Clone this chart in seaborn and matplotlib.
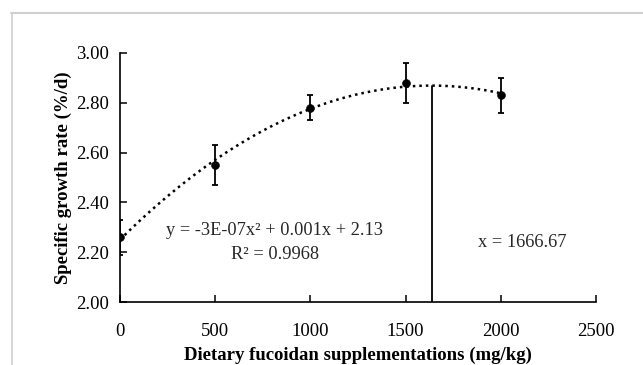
import numpy as np
import pandas as pd
import matplotlib.pyplot as plt
import matplotlib.lines as mlines
import seaborn as sns

# === DATA ===
doses = [0, 500, 1000, 1500, 2000]
sgr = [2.26, 2.55, 2.78, 2.88, 2.83]
sgr_err = [0.07, 0.08, 0.05, 0.08, 0.07]
optimum_x = 1640
x_ticks = [0, 500, 1000, 1500, 2000, 2500]
y_ticks = [2.00, 2.20, 2.40, 2.60, 2.80, 3.00]

# === STYLE ===
sns.set_theme(style="white")
plt.rcParams['font.family'] = ['Liberation Serif', 'DejaVu Serif']

fig = plt.figure(figsize=(6.43, 3.65), dpi=100)
ax = fig.add_axes([0.1866, 0.1726, 0.7403, 0.6822])

# quadratic trendline fitted to the means
coef = np.polyfit(doses, sgr, 2)
xs = np.linspace(0, 2000, 200)
fit = pd.DataFrame({"x": xs, "y": np.polyval(coef, xs)})
sns.lineplot(data=fit, x="x", y="y", ax=ax, color="black", linestyle=(0, (1, 1.6)),
             linewidth=1.8, zorder=2)

# means with error bars
ax.errorbar(doses, sgr, yerr=sgr_err, fmt="none", ecolor="black", elinewidth=1.3,
            capsize=2.4, capthick=1.3, zorder=3)
sns.scatterplot(x=doses, y=sgr, ax=ax, color="black", s=32, edgecolor="black", zorder=4)

# vertical line at optimum
ax.plot([optimum_x, optimum_x], [2.0, np.polyval(coef, optimum_x)], color="black",
        linewidth=1.3, zorder=2)

ax.text(814, 2.289, "y = -3E-07x² + 0.001x + 2.13", ha="center", va="center", fontsize=13.2)
ax.text(814, 2.189, "R² = 0.9968", ha="center", va="center", fontsize=13.2)
ax.text(2111, 2.237, "x = 1666.67", ha="center", va="center", fontsize=13.2)

ax.set_xlim(0, 2500)
ax.set_ylim(2.0, 3.0)
ax.set_xticks(x_ticks)
ax.set_yticks(y_ticks)
ax.set_yticklabels([f"{v:.2f}" for v in y_ticks])
ax.tick_params(axis="both", direction="in", length=5, width=1.1, labelsize=13.5,
               colors="black", left=True, bottom=True)
ax.tick_params(axis="x", pad=15)
ax.tick_params(axis="y", pad=8)
for side in ["top", "right"]:
    ax.spines[side].set_visible(False)
for side in ["left", "bottom"]:
    ax.spines[side].set_color("black")
    ax.spines[side].set_linewidth(1.2)

ax.set_xlabel("Dietary fucoidan supplementations (mg/kg)", fontsize=13.5, fontweight="bold",
              color="black", labelpad=5)
ax.set_ylabel("Specific growth rate (%/d)", fontsize=13.5, fontweight="bold", color="black",
              labelpad=3)
ax.grid(False)

# light grey frame edge (top and left)
fig.add_artist(mlines.Line2D([11 / 643, 1.0], [1 - 12.5 / 365, 1 - 12.5 / 365],
                             color="#d0d0d0", linewidth=1.5, transform=fig.transFigure))
fig.add_artist(mlines.Line2D([11.5 / 643, 11.5 / 643], [0, 1 - 12.5 / 365],
                             color="#d0d0d0", linewidth=1.2, transform=fig.transFigure))

fig.savefig("out.png", dpi=100)
